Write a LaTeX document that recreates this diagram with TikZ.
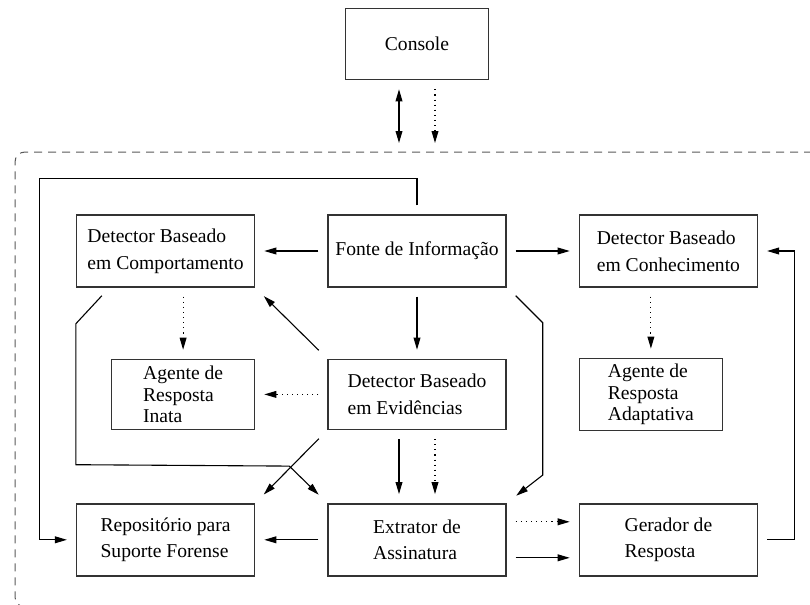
\documentclass[tikz,border=0pt]{standalone}
\usepackage{fontspec}
\setmainfont{Liberation Serif}
\usetikzlibrary{positioning,arrows.meta,calc}

\begin{document}
\begin{tikzpicture}[
    x=0.5pt, y=-0.5pt,
    font=\fontsize{9.8pt}{13.3pt}\selectfont,
    >={Triangle[length=6pt,width=3.4pt]},
    box/.style={draw=black!80, line width=0.7pt, align=left, inner sep=3pt,
                minimum width=89pt, minimum height=36pt},
    agt/.style={box, minimum width=71.5pt, minimum height=35pt,
                font=\fontsize{9.8pt}{10.6pt}\selectfont},
    arr/.style={->, line width=0.55pt, shorten <=4.5pt, shorten >=4.5pt},
    darr/.style={arr, dotted},
    diag/.style={arr, shorten <=6pt, shorten >=6pt},
    frame/.style={draw=black!65, dash pattern=on 4pt off 3pt, line width=0.5pt,
                  rounded corners=5pt},
  ]
  \useasboundingbox (0,0) rectangle (810,605);

  % ===== boxes =====
  \node[box] (fonte) at (417,251) {Fonte de Informação};
  \node[box, left=36pt of fonte] (comp) {Detector Baseado\\em Comportamento};
  \node[box, right=36pt of fonte] (con) {Detector Baseado\\em Conhecimento};
  \node[box, minimum height=35pt, below=35.5pt of fonte] (evid) {Detector Baseado\\em Evidências};
  \node[agt, left=36pt of evid] (inata) {Agente de\\Resposta\\Inata};
  \node[agt, right=36pt of evid] (adapt) {Agente de\\Resposta\\Adaptativa};
  \node[box, below=36.5pt of evid] (ext) {Extrator de\\Assinatura};
  \node[box, left=36pt of ext] (repo) {Repositório para\\Suporte Forense};
  \node[box, right=36pt of ext] (ger) {Gerador de\\Resposta};
  \node[box, minimum width=71.5pt, minimum height=35.5pt, above=67pt of fonte] (cons) {Console};

  % ===== dashed frame round the system =====
  \coordinate (frm) at (15,152);
  \draw[frame] (812,152) -- (frm) -- (15,607) -- (812,607);

  % ===== console link =====
  \coordinate (cl) at ($(cons.south)+(-18,0)$);
  \coordinate (cr) at ($(cons.south)+(18,0)$);
  \draw[arr, <->] (cl) -- (cl |- frm);
  \draw[darr] (cr) -- (cr |- frm);

  % ===== arrows =====
  \draw[arr] (fonte.west) -- (comp.east);
  \draw[arr] (fonte.east) -- (con.west);
  \draw[arr] (fonte.south) -- (evid.north);
  \draw[darr] (comp.south -| inata) -- (inata.north);
  \draw[darr] (con.south -| adapt) -- (adapt.north);
  \draw[darr] (evid.west) -- (inata.east);
  \draw[diag] (evid.north west) -- (comp.south east);
  \draw[diag] (evid.south west) -- (repo.north east);
  \draw[arr] ($(evid.south)+(-18,0)$) -- ($(ext.north)+(-18,0)$);
  \draw[darr] ($(evid.south)+(18,0)$) -- ($(ext.north)+(18,0)$);
  \draw[arr] (ext.west) -- (repo.east);
  \draw[darr] ($(ext.east)+(0,-18)$) -- ($(ger.west)+(0,-18)$);
  \draw[arr] ($(ext.east)+(0,18)$) -- ($(ger.west)+(0,18)$);

  % ===== long routes =====
  \draw[arr] (fonte.north) -- ++(0,-36) -| ($(repo.west)+(-36,0)$) -- (repo.west);
  \draw[arr] (ger.east) -- ++(36,0) |- (con.east);
  \draw[arr, shorten <=0pt, shorten >=6pt] ($(comp.south west)+(26,8)$)
        -- ($(comp.south west)+(0,36)$) -- ($(comp.south west)+(0,177)$)
        -- ($(ext.north west)+(-38,-37)$) -- (ext.north west);
  \draw[arr, shorten <=0pt, shorten >=6pt] ($(fonte.south east)+(9,8)$)
        -- ($(fonte.south east)+(36,35)$) -- ($(ext.north east)+(36,-28)$)
        -- (ext.north east);

\end{tikzpicture}
\end{document}
